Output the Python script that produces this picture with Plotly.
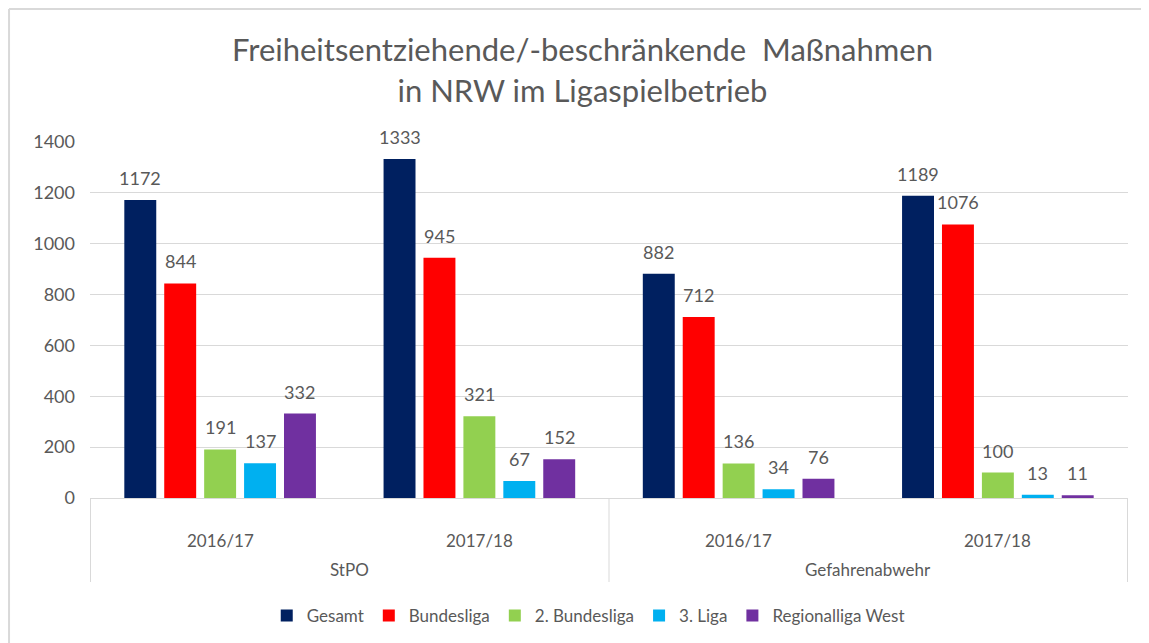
import plotly.graph_objects as go

# categories (outer level / inner level)
groups = ["StPO", "StPO", "Gefahrenabwehr", "Gefahrenabwehr"]
seasons = ["2016/17", "2017/18", "2016/17", "2017/18"]
group_names = ["StPO", "Gefahrenabwehr"]

series_names = ["Gesamt", "Bundesliga", "2. Bundesliga", "3. Liga", "Regionalliga West"]
gesamt = [1172, 1333, 882, 1189]
bundesliga = [844, 945, 712, 1076]
zweite_liga = [191, 321, 136, 100]
dritte_liga = [137, 67, 34, 13]
regionalliga = [332, 152, 76, 11]

colors = ["#002060", "#FF0000", "#92D050", "#00B0F0", "#7030A0"]
font_family = "Lato, 'Open Sans', sans-serif"
grey = "#595959"
line_grey = "#d9d9d9"

bargap = 0.23
bargroupgap = 0.2
all_series = [gesamt, bundesliga, zweite_liga, dritte_liga, regionalliga]

fig = go.Figure()
for name, vals, col in zip(series_names, all_series, colors):
    fig.add_trace(go.Bar(
        x=[groups, seasons],
        y=vals,
        name=name,
        marker=dict(color=col, line=dict(width=0)),
        hovertemplate="%{y}<extra>" + name + "</extra>",
    ))

# data labels, placed above each bar through the axis scale
slot = (1 - bargap) / len(all_series)
for j, vals in enumerate(all_series):
    for i, v in enumerate(vals):
        fig.add_annotation(
            x=i - (1 - bargap) / 2 + slot * (j + 0.5),
            y=v,
            xref="x", yref="y",
            text=str(v),
            showarrow=False,
            yanchor="bottom",
            yshift=9,
            font=dict(size=18, color=grey, family=font_family),
        )

# two-level category labels (Excel style)
for i, s in enumerate(seasons):
    fig.add_annotation(x=i, y=-0.118, xref="x", yref="paper", text=s,
                       showarrow=False, yanchor="middle",
                       font=dict(size=17, color=grey, family=font_family))
for k, g in enumerate(group_names):
    fig.add_annotation(x=2 * k + 0.5, y=-0.202, xref="x", yref="paper", text=g,
                       showarrow=False, yanchor="middle",
                       font=dict(size=17, color=grey, family=font_family))
for xd in [-0.5, 1.5, 3.5]:
    fig.add_shape(type="line", xref="x", yref="paper",
                  x0=xd, x1=xd, y0=0, y1=-0.236,
                  line=dict(color=line_grey, width=1))

fig.update_layout(
    width=1149,
    height=643,
    margin=dict(l=82, r=29, t=134, b=153),
    paper_bgcolor="white",
    plot_bgcolor="white",
    barmode="group",
    bargap=bargap,
    bargroupgap=bargroupgap,
    font=dict(family=font_family, color=grey, size=17),
    title=dict(
        text="Freiheitsentziehende/-beschränkende  Maßnahmen<br>in NRW im Ligaspielbetrieb",
        x=0.5, xanchor="center",
        y=0.917, yanchor="middle",
        font=dict(size=31, color=grey, family=font_family),
    ),
    legend=dict(
        orientation="h",
        x=0.48, xanchor="center",
        y=-0.331, yanchor="middle",
        font=dict(size=17, color=grey),
        itemwidth=30,
        traceorder="normal",
    ),
    showlegend=True,
)

fig.update_yaxes(
    range=[0, 1400],
    dtick=200,
    showgrid=True,
    gridcolor=line_grey,
    gridwidth=1,
    zeroline=False,
    showline=False,
    tickfont=dict(size=18, color=grey),
    ticks="",
    ticklabelstandoff=14,
)
fig.update_xaxes(
    type="multicategory",
    showline=True,
    linecolor=line_grey,
    showdividers=False,
    showticklabels=False,
    ticks="",
)

# outer chart frame (top and left edges)
fig.add_shape(type="line", xref="paper", yref="paper",
              x0=-0.078, x1=1.05, y0=1.3736, y1=1.3736,
              line=dict(color=line_grey, width=2))
fig.add_shape(type="line", xref="paper", yref="paper",
              x0=-0.078, x1=-0.078, y0=1.3736, y1=-0.45,
              line=dict(color=line_grey, width=2))

fig.write_html("out.html")
